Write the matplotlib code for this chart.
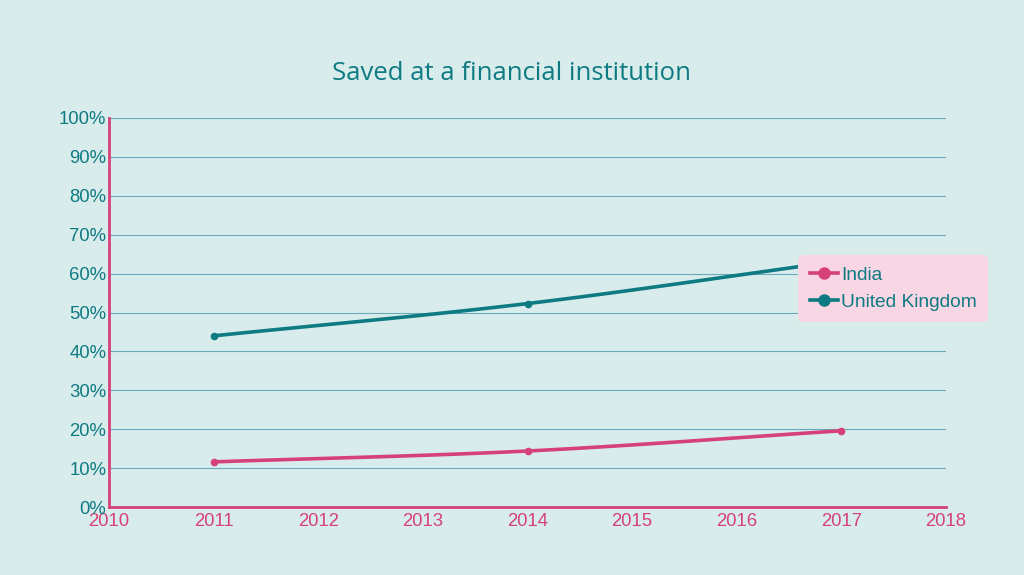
import matplotlib.pyplot as plt
import numpy as np

years = [2011, 2014, 2017]
india = [11.6, 14.4, 19.6]
uk = [44.0, 52.3, 63.3]

BG = '#d9ecec'
PINK = '#d6417a'
TEAL = '#0e7a82'
GRID = '#6aaab8'


def smooth(x, y, n=60):
    # catmull-rom style curve through the points (for drawing only)
    x = np.asarray(x, float)
    y = np.asarray(y, float)
    px = np.concatenate([[2 * x[0] - x[1]], x, [2 * x[-1] - x[-2]]])
    py = np.concatenate([[2 * y[0] - y[1]], y, [2 * y[-1] - y[-2]]])
    xs, ys = [], []
    t = np.linspace(0, 1, n)
    for i in range(1, len(px) - 2):
        for p, out in ((px, xs), (py, ys)):
            p0, p1, p2, p3 = p[i - 1], p[i], p[i + 1], p[i + 2]
            out.append(0.5 * (2 * p1 + (-p0 + p2) * t
                              + (2 * p0 - 5 * p1 + 4 * p2 - p3) * t ** 2
                              + (-p0 + 3 * p1 - 3 * p2 + p3) * t ** 3))
    return np.concatenate(xs), np.concatenate(ys)


fig = plt.figure(figsize=(10.24, 5.75), dpi=100, facecolor=BG)
ax = fig.add_axes([109 / 1024, 68 / 575, 837 / 1024, 389 / 575])
ax.set_facecolor(BG)

for vals, col, name in ((india, PINK, 'India'), (uk, TEAL, 'United Kingdom')):
    sx, sy = smooth(years, vals)
    ax.plot(sx, sy, color=col, lw=2.6, solid_capstyle='round', zorder=3)
    ax.plot(years, vals, 'o', color=col, ms=4.5, zorder=4)
    ax.plot([], [], '-o', color=col, lw=2.6, ms=8, label=name)

ax.set_xlim(2010, 2018)
ax.set_ylim(0, 100)
ax.set_xticks(range(2010, 2019))
ax.set_yticks(range(0, 101, 10))
ax.set_yticklabels([f'{v}%' for v in range(0, 101, 10)])
ax.grid(axis='y', color=GRID, lw=0.8)
ax.set_axisbelow(True)
for s in ('top', 'right'):
    ax.spines[s].set_visible(False)
for s in ('left', 'bottom'):
    ax.spines[s].set_color(PINK)
    ax.spines[s].set_linewidth(2)
ax.tick_params(length=0, labelsize=13.3, pad=2)
ax.tick_params(axis='x', colors=PINK, pad=4)
ax.tick_params(axis='y', colors=TEAL)
for lab in ax.get_xticklabels() + ax.get_yticklabels():
    lab.set_family('Liberation Sans')

fig.text(512 / 1024, 1 - 73 / 575, 'Saved at a financial institution',
         ha='center', va='center', color=TEAL, fontsize=18.5, family='Open Sans')

leg = fig.legend(loc='upper left', bbox_to_anchor=(798 / 1024, 1 - 255 / 575),
                 frameon=True, facecolor='#f9d6e3', edgecolor='none',
                 framealpha=1, fancybox=True, handlelength=1.5,
                 handletextpad=0.15, borderpad=0.6, labelspacing=0.5,
                 borderaxespad=0,
                 prop={'family': 'Liberation Sans', 'size': 13.8})
leg.get_frame().set_boxstyle('round', pad=0, rounding_size=0.3)
for t in leg.get_texts():
    t.set_color(TEAL)
leg.set_zorder(10)

fig.savefig('out.png', dpi=100, facecolor=BG)
